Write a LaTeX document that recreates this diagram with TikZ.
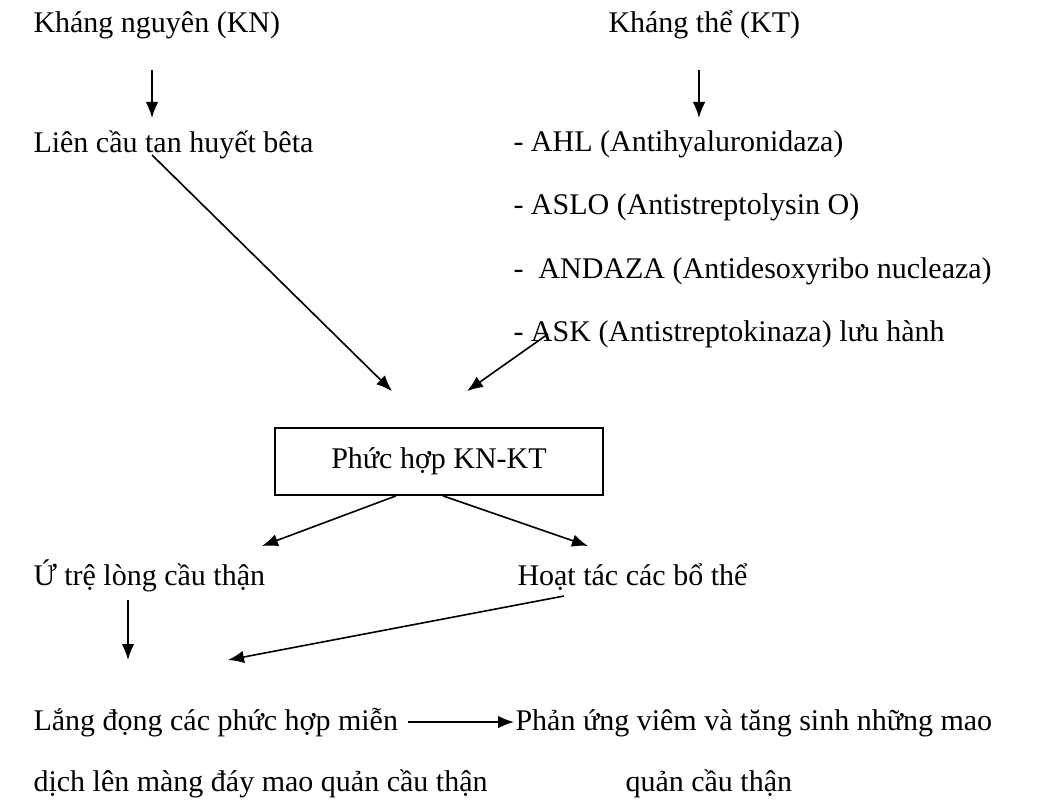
\documentclass[tikz,border=0pt]{standalone}
\usepackage{fontspec}
\setmainfont{Liberation Serif}
\usepackage{tikz}
\usetikzlibrary{arrows.meta}

\begin{document}
\begin{tikzpicture}[x=0.4pt,y=-0.4pt]
					\tikzstyle{txt}=[anchor=base west,inner sep=0pt,font=\fontsize{12}{14}\selectfont]
					\tikzstyle{box}=[draw=black,line width=0.7pt,minimum width=131.2pt,minimum height=26.8pt,inner sep=0pt,font=\fontsize{12}{14}\selectfont]
					\tikzstyle{arr}=[-{Latex[length=6.4pt,width=5pt]},line width=0.65pt]
					\useasboundingbox (0,0) rectangle (1038,811);
					\node[txt] (kn) at (33,33) {Kháng nguyên (KN)};
					\node[txt] (kt) at (608,33) {Kháng thể (KT)};
					\node[txt] (lien) at (33,153) {Liên cầu tan huyết bêta};
					\node[txt] (ahl) at (513,152) {- AHL (Antihyaluronidaza)};
					\node[txt] (aslo) at (513,215) {- ASLO (Antistreptolysin O)};
					\node[txt] (andaza) at (513,279) {-\ \ ANDAZA (Antidesoxyribo nucleaza)};
					\node[txt] (ask) at (513,342) {- ASK (Antistreptokinaza) lưu hành};
					\node[box] (phuc) at (439,461.5) {Phức hợp KN-KT};
					\node[txt] (utre) at (33,585) {Ứ trệ lòng cầu thận};
					\node[txt] (hoat) at (517,585) {Hoạt tác các bổ thể};
					\node[txt] (lang) at (33,730) {Lắng đọng các phức hợp miễn};
					\node[txt] (dich) at (33,791) {dịch lên màng đáy mao quản cầu thận};
					\node[txt] (phan) at (515,730) {Phản ứng viêm và tăng sinh những mao};
					\node[txt] (quan) at (625,791) {quản cầu thận};
					\draw[arr] ([shift={(119,37)}]kn.base west) -- ([shift={(119,-35)}]lien.base west);
					\draw[arr] ([shift={(91,37)}]kt.base west) -- ([shift={(186,-34)}]ahl.base west);
					\draw[arr] ([shift={(119,2)}]lien.base west) -- ([shift={(-47,-36)}]phuc.north);
					\draw[arr] ([shift={(35,-8)}]ask.base west) -- ([shift={(28,-36)}]phuc.north);
					\draw[arr] ([shift={(-43,0)}]phuc.south) -- ([shift={(229,-39)}]utre.base west);
					\draw[arr] ([shift={(4,0)}]phuc.south) -- ([shift={(71,-39)}]hoat.base west);
					\draw[arr] ([shift={(95,15)}]utre.base west) -- ([shift={(95,-70)}]lang.base west);
					\draw[arr] ([shift={(47,11)}]hoat.base west) -- ([shift={(195,-70)}]lang.base west);
					\draw[arr] ([shift={(375,-8)}]lang.base west) -- ([shift={(-1,-8)}]phan.base west);
					\end{tikzpicture}
\end{document}
